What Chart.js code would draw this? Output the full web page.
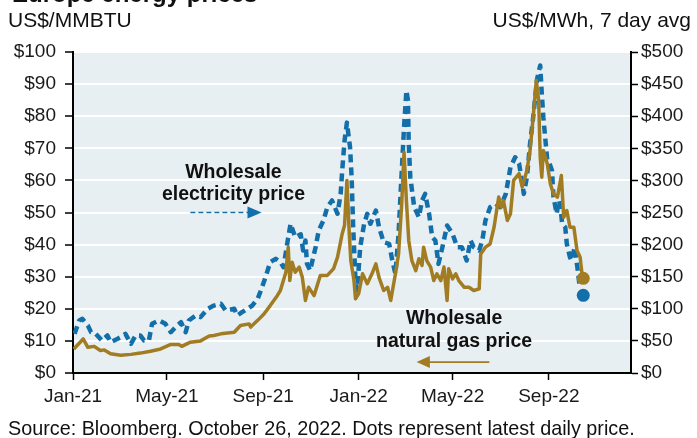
<!DOCTYPE html>
<html>
<head>
<meta charset="utf-8">
<script src="https://cdn.jsdelivr.net/npm/chart.js@4.4.0/dist/chart.umd.min.js"></script>
<style>
  body { margin: 0; background: #fff; font-family: 'Liberation Sans', Arial, sans-serif; color: #111; }
  #wrap { position: relative; width: 697px; height: 438px; overflow: hidden; }
  #wrap canvas { position: absolute; left: 0; top: 0; }
  .txt { position: absolute; white-space: nowrap; }
  #title { left: 12px; top: -18px; font-size: 24px; line-height: 24px; font-weight: bold; }
  #unitL { left: 8px; top: 9px; font-size: 21px; line-height: 21px; }
  #unitR { right: 6px; top: 9px; font-size: 21px; line-height: 21px; }
  #source { left: 8px; top: 418px; font-size: 19.8px; line-height: 20px; }
</style>
</head>
<body>
<div id="wrap">
  <canvas id="myChart" width="697" height="438"></canvas>
  <div class="txt" id="title">Europe energy prices</div>
  <div class="txt" id="unitL">US$/MMBTU</div>
  <div class="txt" id="unitR">US$/MWh, 7 day avg</div>
  <div class="txt" id="source">Source: Bloomberg. October 26, 2022. Dots represent latest daily price.</div>
</div>
<script>
// x axis ticks
const tickDates = ['2021-01-01', '2021-05-01', '2021-09-01', '2022-01-01', '2022-05-01', '2022-09-01'];
const tickLabels = ['Jan-21', 'May-21', 'Sep-21', 'Jan-22', 'May-22', 'Sep-22'];

// wholesale natural gas, US$/MMBTU (left axis)
const gasDates = [
  '2021-01-02', '2021-01-14', '2021-01-20', '2021-01-28', '2021-02-05', '2021-02-10', '2021-02-18', '2021-03-03',
  '2021-03-16', '2021-03-28', '2021-04-10', '2021-04-23', '2021-05-06', '2021-05-16', '2021-05-20', '2021-05-31',
  '2021-06-13', '2021-06-24', '2021-06-30', '2021-07-09', '2021-07-26', '2021-08-03', '2021-08-14', '2021-08-16',
  '2021-08-25', '2021-09-02', '2021-09-10', '2021-09-19', '2021-09-23', '2021-09-30', '2021-10-03', '2021-10-05',
  '2021-10-08', '2021-10-12', '2021-10-17', '2021-10-21', '2021-10-25', '2021-10-29', '2021-11-05', '2021-11-13',
  '2021-11-22', '2021-11-30', '2021-12-05', '2021-12-11', '2021-12-14', '2021-12-17', '2021-12-20', '2021-12-22',
  '2021-12-26', '2021-12-28', '2022-01-01', '2022-01-06', '2022-01-12', '2022-01-18', '2022-01-23', '2022-01-27',
  '2022-02-02', '2022-02-07', '2022-02-11', '2022-02-17', '2022-02-21', '2022-02-25', '2022-02-28', '2022-03-03',
  '2022-03-06', '2022-03-10', '2022-03-15', '2022-03-19', '2022-03-23', '2022-03-25', '2022-03-29', '2022-04-03',
  '2022-04-07', '2022-04-11', '2022-04-16', '2022-04-20', '2022-04-24', '2022-04-26', '2022-05-01', '2022-05-05',
  '2022-05-09', '2022-05-16', '2022-05-22', '2022-05-28', '2022-06-04', '2022-06-06', '2022-06-12', '2022-06-18',
  '2022-06-23', '2022-06-27', '2022-06-29', '2022-07-02', '2022-07-05', '2022-07-10', '2022-07-14', '2022-07-18',
  '2022-07-25', '2022-07-29', '2022-08-04', '2022-08-08', '2022-08-12', '2022-08-16', '2022-08-19', '2022-08-21',
  '2022-08-23', '2022-08-25', '2022-08-30', '2022-09-03', '2022-09-07', '2022-09-12', '2022-09-17', '2022-09-20',
  '2022-09-24', '2022-09-28', '2022-10-03', '2022-10-07', '2022-10-11', '2022-10-14'
];
const gasPrice = [
  7.5, 10.6, 8.0, 8.3, 7.0, 7.2, 6.0, 5.5,
  5.8, 6.2, 6.8, 7.5, 8.9, 8.9, 8.3, 9.6,
  10.0, 11.5, 11.7, 12.2, 12.7, 14.8, 15.3, 14.3,
  16.4, 18.4, 21.0, 24.1, 25.7, 31.4, 39.2, 28.8,
  34.5, 31.4, 33.0, 29.8, 22.6, 26.7, 24.1, 30.4,
  30.4, 32.5, 36.1, 43.4, 46.0, 60.0, 43.4, 35.0,
  28.8, 23.1, 24.7, 30.9, 27.8, 30.9, 34.0, 29.8,
  25.7, 26.7, 22.6, 30.9, 37.1, 52.7, 68.8, 53.7,
  41.3, 35.0, 31.9, 35.6, 33.5, 39.2, 35.0, 33.0,
  28.8, 30.9, 28.8, 33.0, 22.6, 32.5, 29.3, 30.9,
  28.8, 26.7, 26.7, 25.7, 26.2, 37.1, 39.2, 40.2,
  45.4, 51.7, 54.8, 51.7, 53.7, 47.5, 49.6, 60.0,
  62.1, 57.9, 63.1, 69.3, 79.7, 91.1, 84.9, 67.2,
  61.0, 69.3, 65.2, 58.9, 55.8, 54.8, 61.5, 48.5,
  50.6, 45.4, 45.4, 38.2, 36.1, 29.5
];

// wholesale electricity, US$/MWh 7 day avg (right axis)
const powerDates = [
  '2021-01-03', '2021-01-09', '2021-01-13', '2021-01-20', '2021-01-24', '2021-01-30', '2021-02-07', '2021-02-14',
  '2021-02-18', '2021-02-27', '2021-03-03', '2021-03-09', '2021-03-16', '2021-03-22', '2021-03-28', '2021-04-02',
  '2021-04-08', '2021-04-12', '2021-04-21', '2021-04-29', '2021-05-06', '2021-05-14', '2021-05-19', '2021-05-25',
  '2021-05-29', '2021-06-07', '2021-06-13', '2021-06-22', '2021-06-30', '2021-07-09', '2021-07-15', '2021-07-26',
  '2021-07-30', '2021-08-05', '2021-08-12', '2021-08-18', '2021-08-25', '2021-08-29', '2021-09-04', '2021-09-10',
  '2021-09-17', '2021-09-23', '2021-09-27', '2021-10-02', '2021-10-06', '2021-10-12', '2021-10-19', '2021-10-22',
  '2021-10-25', '2021-10-27', '2021-10-31', '2021-11-07', '2021-11-11', '2021-11-17', '2021-11-22', '2021-11-28',
  '2021-12-05', '2021-12-09', '2021-12-11', '2021-12-14', '2021-12-17', '2021-12-21', '2021-12-23', '2021-12-25',
  '2021-12-28', '2021-12-30', '2022-01-03', '2022-01-08', '2022-01-12', '2022-01-16', '2022-01-23', '2022-01-27',
  '2022-02-02', '2022-02-09', '2022-02-13', '2022-02-17', '2022-02-21', '2022-02-24', '2022-02-28', '2022-03-03',
  '2022-03-05', '2022-03-06', '2022-03-08', '2022-03-13', '2022-03-17', '2022-03-19', '2022-03-23', '2022-03-27',
  '2022-04-01', '2022-04-05', '2022-04-09', '2022-04-13', '2022-04-18', '2022-04-24', '2022-05-01', '2022-05-07',
  '2022-05-13', '2022-05-19', '2022-05-24', '2022-05-28', '2022-06-04', '2022-06-08', '2022-06-12', '2022-06-18',
  '2022-06-25', '2022-07-01', '2022-07-08', '2022-07-14', '2022-07-20', '2022-07-25', '2022-07-29', '2022-07-31',
  '2022-08-04', '2022-08-08', '2022-08-12', '2022-08-17', '2022-08-21', '2022-08-23', '2022-08-25', '2022-08-30',
  '2022-09-02', '2022-09-05', '2022-09-07', '2022-09-11', '2022-09-14', '2022-09-16', '2022-09-18', '2022-09-22',
  '2022-09-24', '2022-09-28', '2022-09-30', '2022-10-04', '2022-10-08', '2022-10-10'
];
const powerPrice = [
  61, 81.8, 84.4, 74, 63.6, 61, 50.6, 58.4,
  48, 53.3, 55.8, 61, 45.5, 58.4, 58.4, 50.6,
  50.6, 76.6, 81.8, 76.6, 63.6, 74, 79.1, 63.6,
  81.8, 89.6, 87, 100, 105, 107.8, 97.4, 100,
  89.6, 94.7, 100, 105, 115.6, 128.5, 149.2, 172.6,
  177.9, 172.6, 164.8, 203.7, 232.4, 211.5, 216, 190.8,
  206.4, 170, 159.7, 196, 222, 237.5, 258.3, 268.7,
  248, 279, 315.4, 362, 390, 351.7, 305, 227,
  144, 128.5, 196, 232.4, 248, 232.4, 253.1, 227,
  203.7, 201.2, 175.2, 154.5, 216.8, 289.4, 382.9, 440,
  424.5, 357, 305, 258.3, 248, 242.7, 268.7, 279,
  248, 211.5, 206.4, 170, 196, 229.8, 216.8, 196,
  196, 175.2, 206.4, 196, 190.8, 206.4, 237.5, 258.3,
  263.6, 258.3, 279, 320.6, 336, 326, 297, 279,
  305, 357, 398.4, 458, 479, 434.9, 398.4, 331,
  326, 315.4, 273.8, 248, 268.7, 258.3, 232.4, 227,
  201, 180.4, 175.2, 196, 159.7, 139
];

// latest daily prices (dots)
const latestDate = '2022-10-15';
const latestGas = 29.5;
const latestPower = 121;

const GOLD = '#a27c22';
const BLUE = '#136fa9';
const FONT = "'Liberation Sans', Arial, sans-serif";

// days since 1 Jan 2021
function day(s) {
  let p = s.split('-').map(Number);
  return (Date.UTC(p[0], p[1] - 1, p[2]) - Date.UTC(2021, 0, 1)) / 864e5;
}
const tickDays = tickDates.map(day);

let gasData = gasDates.map((d, i) => ({ x: day(d), y: gasPrice[i] }));
let powerData = powerDates.map((d, i) => ({ x: day(d), y: powerPrice[i] }));

const plotBg = {
  id: 'plotBg',
  beforeDraw(chart) {
    let { ctx, chartArea: a } = chart;
    ctx.save();
    ctx.fillStyle = '#e7eff3';
    ctx.fillRect(a.left, a.top, a.right - a.left, a.bottom - a.top);
    ctx.restore();
  },
};

// text + arrows placed in data units
const notes = {
  id: 'notes',
  afterDraw(chart) {
    let { ctx } = chart;
    let sx = chart.scales.x, sy = chart.scales.y;
    let px = (d) => sx.getPixelForValue(d);
    let py = (v) => sy.getPixelForValue(v);
    ctx.save();
    ctx.fillStyle = '#111';
    ctx.font = 'bold 19.5px ' + FONT;
    ctx.textAlign = 'center';
    ctx.textBaseline = 'middle';
    ctx.fillText('Wholesale', px(205), py(62.4));
    ctx.fillText('electricity price', px(205), py(55.5));
    ctx.fillText('Wholesale', px(487), py(17.0));
    ctx.fillText('natural gas price', px(487), py(9.8));

    // electricity arrow, dashed, pointing right
    let y1 = py(50);
    ctx.strokeStyle = BLUE;
    ctx.lineWidth = 1.6;
    ctx.setLineDash([5, 3]);
    ctx.beginPath();
    ctx.moveTo(px(150), y1);
    ctx.lineTo(px(224), y1);
    ctx.stroke();
    ctx.setLineDash([]);
    ctx.fillStyle = BLUE;
    ctx.beginPath();
    ctx.moveTo(px(223), y1 - 6);
    ctx.lineTo(px(241), y1);
    ctx.lineTo(px(223), y1 + 6);
    ctx.closePath();
    ctx.fill();

    // gas arrow, pointing left
    let y2 = py(3.4);
    ctx.strokeStyle = GOLD;
    ctx.lineWidth = 1.6;
    ctx.beginPath();
    ctx.moveTo(px(532), y2);
    ctx.lineTo(px(455), y2);
    ctx.stroke();
    ctx.fillStyle = GOLD;
    ctx.beginPath();
    ctx.moveTo(px(456), y2 - 6);
    ctx.lineTo(px(439), y2);
    ctx.lineTo(px(456), y2 + 6);
    ctx.closePath();
    ctx.fill();
    ctx.restore();
  },
};

Chart.defaults.font.family = FONT;
Chart.defaults.color = '#1a1a1a';

let ctx = document.getElementById('myChart').getContext('2d');
let myChart = new Chart(ctx, {
  type: 'line',
  data: {
    datasets: [
      {
        label: 'Wholesale electricity price',
        data: powerData,
        yAxisID: 'y1',
        borderColor: BLUE,
        borderWidth: 4.5,
        borderDash: [8, 5],
        borderJoinStyle: 'round',
        pointRadius: 0,
        tension: 0,
        order: 2,
      },
      {
        label: 'Wholesale natural gas price',
        data: gasData,
        yAxisID: 'y',
        borderColor: GOLD,
        borderWidth: 3.5,
        borderJoinStyle: 'round',
        pointRadius: 0,
        tension: 0,
        order: 1,
      },
      {
        label: 'Latest electricity',
        type: 'scatter',
        data: [{ x: day(latestDate), y: latestPower }],
        yAxisID: 'y1',
        pointRadius: 6.5,
        backgroundColor: BLUE,
        borderWidth: 0,
        order: 0,
      },
      {
        label: 'Latest gas',
        type: 'scatter',
        data: [{ x: day(latestDate), y: latestGas }],
        yAxisID: 'y',
        pointRadius: 6.5,
        backgroundColor: GOLD,
        borderWidth: 0,
        order: 0,
      },
    ],
  },
  options: {
    responsive: false,
    animation: false,
    events: [],
    layout: { padding: { top: 52, left: 0, right: 0, bottom: 0 } },
    scales: {
      x: {
        type: 'linear',
        min: 0,
        max: 713,
        afterFit: (s) => { s.height = 65; },
        afterBuildTicks: (s) => { s.ticks = tickDays.map((v) => ({ value: v })); },
        ticks: {
          autoSkip: false,
          maxRotation: 0,
          padding: 5,
          font: { size: 19 },
          callback: (v) => tickLabels[tickDays.indexOf(v)],
        },
        grid: {
          drawOnChartArea: false,
          drawTicks: true,
          tickLength: 7,
          tickColor: '#000',
          tickWidth: 1.5,
        },
        border: { color: '#000', width: 2 },
      },
      y: {
        position: 'left',
        min: 0,
        max: 100,
        afterFit: (s) => { s.width = 73; },
        ticks: {
          stepSize: 10,
          padding: 9,
          font: { size: 19 },
          callback: (v) => '$' + v,
        },
        grid: {
          color: '#ffffff',
          lineWidth: 2,
          tickLength: 8,
          tickColor: '#000',
          tickWidth: 1.5,
        },
        border: { color: '#000', width: 2 },
      },
      y1: {
        position: 'right',
        min: 0,
        max: 500,
        afterFit: (s) => { s.width = 66; },
        ticks: {
          stepSize: 50,
          padding: 3,
          font: { size: 19 },
          callback: (v) => '$' + v,
        },
        grid: {
          drawOnChartArea: false,
          tickLength: 7,
          tickColor: '#000',
          tickWidth: 1.5,
        },
        border: { color: '#000', width: 2 },
      },
    },
    plugins: {
      legend: { display: false },
      tooltip: { enabled: false },
    },
  },
  plugins: [plotBg, notes],
});
</script>
</body>
</html>
